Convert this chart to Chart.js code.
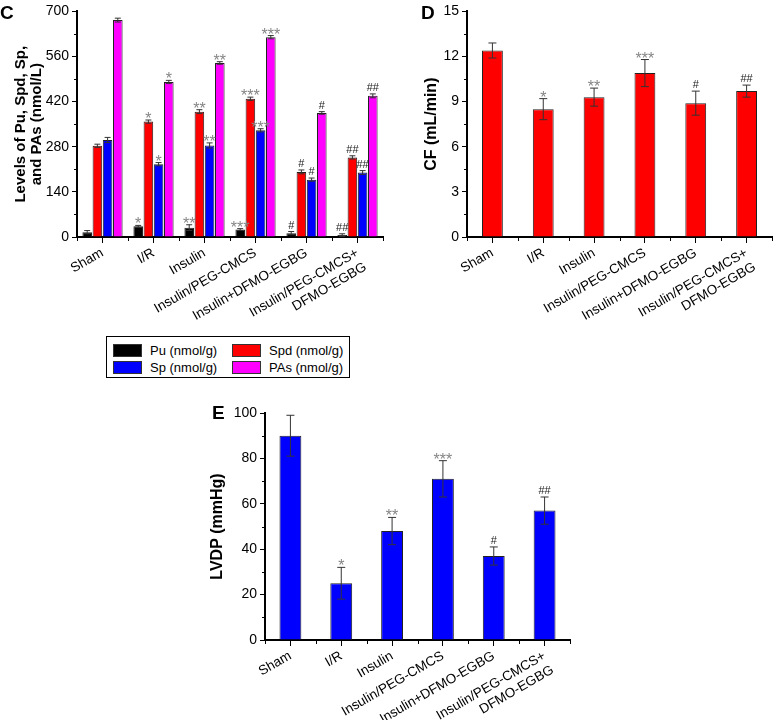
<!DOCTYPE html>
<html>
<head>
<meta charset="utf-8">
<script src="https://cdn.jsdelivr.net/npm/chart.js@4/dist/chart.umd.min.js"></script>
<style>
  body { margin: 0; width: 773px; height: 720px; background: #fff; position: relative; overflow: hidden;
         font-family: "Liberation Sans", Arial, sans-serif; }
  .panel { position: absolute; }
  .letter { position: absolute; font-weight: bold; font-size: 19px; line-height: 1; color: #000; }
  #legend { position: absolute; left: 106px; top: 336px; width: 244px; height: 42px; border: 1px solid #000;
            box-sizing: border-box; font-size: 13px; }
  .item { position: absolute; display: flex; align-items: center; }
  .swatch { width: 29px; height: 13px; border: 1px solid #333; box-sizing: border-box; margin-right: 8px; }
</style>
</head>
<body>
<div class="panel" style="left:0;top:0"><canvas id="chartC" width="392" height="330"></canvas></div>
<div class="panel" style="left:400px;top:0"><canvas id="chartD" width="373" height="330"></canvas></div>
<div class="panel" style="left:200px;top:400px"><canvas id="chartE" width="375" height="320"></canvas></div>
<div class="letter" style="left:0;top:3px">C</div>
<div class="letter" style="left:421px;top:3px">D</div>
<div class="letter" style="left:212px;top:403px">E</div>
<div id="legend"></div>

<script>
// data
const categories = ['Sham', 'I/R', 'Insulin', 'Insulin/PEG-CMCS', 'Insulin+DFMO-EGBG', ['Insulin/PEG-CMCS+', 'DFMO-EGBG']];
const marks = ['', '*', '**', '***', '#', '##'];

// panel C
const seriesNames = ['Pu (nmol/g)', 'Spd (nmol/g)', 'Sp (nmol/g)', 'PAs (nmol/g)'];
const seriesColors = ['#000000', '#ff0000', '#0000ff', '#ff00ff'];
const puValues = [15, 33, 29, 23, 12, 6];
const puErrors = [5, 3, 9, 3, 5, 4];
const spdValues = [283, 358, 389, 429, 202, 247];
const spdErrors = [5, 5, 6, 5, 6, 5];
const spValues = [301, 226, 284, 331, 178, 200];
const spErrors = [8, 5, 8, 5, 5, 6];
const pasValues = [673, 481, 540, 620, 385, 438];
const pasErrors = [6, 5, 4, 5, 4, 6];
const levelTicks = [0, 140, 280, 420, 560, 700];

// panel D
const cfValues = [12.4, 8.5, 9.3, 10.9, 8.9, 9.7];
const cfErrors = [0.5, 0.7, 0.6, 0.9, 0.8, 0.4];
const cfTicks = [0, 3, 6, 9, 12, 15];

// panel E
const lvdpValues = [90, 25, 48, 71, 37, 57];
const lvdpErrors = [9, 7, 6, 8, 4, 6];
const lvdpTicks = [0, 20, 40, 60, 80, 100];

const FONT = '"Liberation Sans", Arial, sans-serif';

// error bars and significance marks, placed with the chart's own scales
const errorBarPlugin = {
  id: 'errorBars',
  afterDatasetsDraw(chart, args, opts) {
    const ctx = chart.ctx;
    const y = chart.scales.y;
    chart.data.datasets.forEach((ds, di) => {
      const meta = chart.getDatasetMeta(di);
      meta.data.forEach((bar, i) => {
        const v = ds.data[i], e = ds.errors[i];
        const top = y.getPixelForValue(v + e);
        const bot = y.getPixelForValue(v - e);
        const cap = opts.cap / 2;
        ctx.save();
        ctx.strokeStyle = '#333';
        ctx.lineWidth = 1;
        ctx.beginPath();
        ctx.moveTo(bar.x, top); ctx.lineTo(bar.x, bot);
        ctx.moveTo(bar.x - cap, top); ctx.lineTo(bar.x + cap, top);
        ctx.moveTo(bar.x - cap, bot); ctx.lineTo(bar.x + cap, bot);
        ctx.stroke();
        const m = ds.marks[i];
        if (m) {
          ctx.textAlign = 'center';
          ctx.textBaseline = 'alphabetic';
          if (m[0] === '*') {
            ctx.fillStyle = '#858585';
            ctx.font = '16px ' + FONT;
            ctx.fillText(m, bar.x, top + 4);
          } else {
            ctx.fillStyle = '#222';
            ctx.font = '11px ' + FONT;
            ctx.fillText(m, bar.x, top - 3);
          }
        }
        ctx.restore();
      });
    });
  }
};

// short minor ticks: category boundaries on x, midpoints on y
const minorTickPlugin = {
  id: 'minorTicks',
  afterDraw(chart) {
    const ctx = chart.ctx;
    const x = chart.scales.x, y = chart.scales.y;
    const n = chart.data.labels.length;
    const w = (x.right - x.left) / n;
    ctx.save();
    ctx.strokeStyle = '#000';
    ctx.lineWidth = 1;
    ctx.beginPath();
    for (let k = 0; k <= n; k++) {
      const px = Math.round(x.getPixelForValue(0) - w / 2 + k * w) + 0.5;
      ctx.moveTo(px, y.bottom);
      ctx.lineTo(px, y.bottom + 4);
    }
    const t = y.ticks.map(tk => tk.value);
    for (let k = 0; k < t.length - 1; k++) {
      const py = Math.round(y.getPixelForValue((t[k] + t[k + 1]) / 2)) + 0.5;
      ctx.moveTo(y.right, py);
      ctx.lineTo(y.right - 3, py);
    }
    ctx.stroke();
    ctx.restore();
  }
};

function makeOptions(cfg) {
  return {
    responsive: false,
    animation: false,
    devicePixelRatio: 1,
    layout: { padding: { top: cfg.top, right: cfg.right, left: 0, bottom: 0 } },
    plugins: {
      legend: { display: false },
      tooltip: { enabled: false },
      errorBars: { cap: cfg.cap }
    },
    scales: {
      x: {
        grid: { display: true, offset: false, drawOnChartArea: false, tickLength: 6, color: '#000', lineWidth: 1 },
        border: { color: '#000', width: 2 },
        ticks: { color: '#000', font: { family: FONT, size: 13.5 }, minRotation: 30, maxRotation: 30, autoSkip: false, padding: 2 },
        afterFit(s) { s.height = cfg.xHeight; }
      },
      y: {
        min: 0,
        max: cfg.ticks[cfg.ticks.length - 1],
        afterBuildTicks(s) { s.ticks = cfg.ticks.map(v => ({ value: v })); },
        grid: { display: true, drawOnChartArea: false, tickLength: 5, color: '#000', lineWidth: 1 },
        border: { color: '#000', width: 2 },
        ticks: { color: '#000', font: { family: FONT, size: 14 }, padding: 3 },
        title: {
          display: true,
          text: cfg.title,
          color: '#000',
          font: { family: FONT, size: cfg.titleSize, weight: 'bold', lineHeight: 1.05 },
          padding: { top: cfg.titlePad, bottom: 0 }
        },
        afterFit(s) { s.width = cfg.yWidth; }
      }
    }
  };
}

function barSet(label, values, errors, color, extra) {
  return Object.assign({
    label: label,
    data: values,
    errors: errors,
    marks: marks,
    backgroundColor: color,
    borderColor: '#222',
    borderWidth: 1
  }, extra);
}

// C
new Chart(document.getElementById('chartC'), {
  type: 'bar',
  data: {
    labels: categories,
    datasets: [
      barSet(seriesNames[0], puValues, puErrors, seriesColors[0], {}),
      barSet(seriesNames[1], spdValues, spdErrors, seriesColors[1], {}),
      barSet(seriesNames[2], spValues, spErrors, seriesColors[2], {}),
      barSet(seriesNames[3], pasValues, pasErrors, seriesColors[3], {})
    ]
  },
  options: Object.assign(makeOptions({
    top: 10, right: 9, xHeight: 93, yWidth: 77, ticks: levelTicks, cap: 6,
    title: ['Levels of Pu, Spd, Sp,', 'and PAs (nmol/L)'], titleSize: 15, titlePad: 13
  }), { datasets: { bar: { categoryPercentage: 0.8, barPercentage: 0.94 } } }),
  plugins: [errorBarPlugin, minorTickPlugin]
});

// D
new Chart(document.getElementById('chartD'), {
  type: 'bar',
  data: {
    labels: categories,
    datasets: [barSet('CF', cfValues, cfErrors, '#ff0000', { categoryPercentage: 0.41, barPercentage: 1 })]
  },
  options: makeOptions({
    top: 10, right: 1, xHeight: 93, yWidth: 67, ticks: cfTicks, cap: 8,
    title: 'CF (mL/min)', titleSize: 16, titlePad: 23
  }),
  plugins: [errorBarPlugin, minorTickPlugin]
});

// E
new Chart(document.getElementById('chartE'), {
  type: 'bar',
  data: {
    labels: categories,
    datasets: [barSet('LVDP', lvdpValues, lvdpErrors, '#0000ff', { categoryPercentage: 0.43, barPercentage: 1 })]
  },
  options: makeOptions({
    top: 13, right: 5, xHeight: 80, yWidth: 65, ticks: lvdpTicks, cap: 8,
    title: 'LVDP (mmHg)', titleSize: 16, titlePad: 9
  }),
  plugins: [errorBarPlugin, minorTickPlugin]
});

// legend box for panel C
const legend = document.getElementById('legend');
const spots = [[6, 6], [125, 6], [6, 23], [125, 23]];
seriesNames.forEach((name, i) => {
  const item = document.createElement('div');
  item.className = 'item';
  item.style.left = spots[i][0] + 'px';
  item.style.top = spots[i][1] + 'px';
  const sw = document.createElement('div');
  sw.className = 'swatch';
  sw.style.background = seriesColors[i];
  const tx = document.createElement('span');
  tx.textContent = name;
  item.appendChild(sw);
  item.appendChild(tx);
  legend.appendChild(item);
});
</script>
</body>
</html>
